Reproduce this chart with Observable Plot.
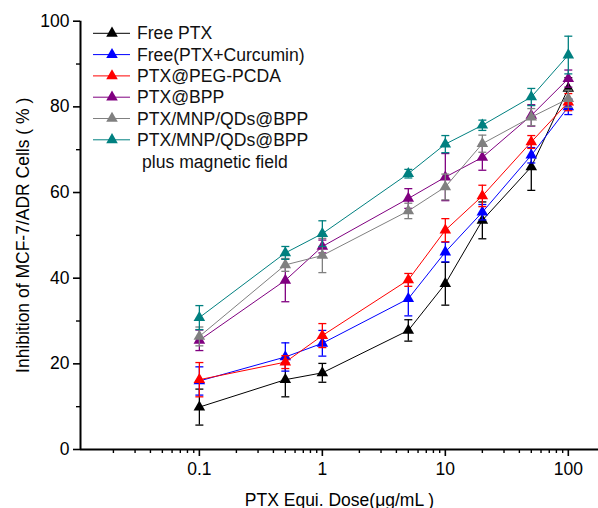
<!DOCTYPE html>
<html><head><meta charset="utf-8">
<script src="https://cdn.jsdelivr.net/npm/d3@7"></script>
<script src="https://cdn.jsdelivr.net/npm/@observablehq/plot@0.6"></script>
<style>
body{margin:0;background:#fff}
#wrap{position:relative;width:598px;height:508px;font-family:"Liberation Sans",Arial,sans-serif}
#legend{position:absolute;left:90px;top:20px}
</style>
</head><body><div id="wrap"></div>
<script>
// ---- data ----
const doses = [0.1, 0.5, 1, 5, 10, 20, 50, 100];
const seriesNames = ["Free PTX", "Free(PTX+Curcumin)", "PTX@PEG-PCDA", "PTX@BPP", "PTX/MNP/QDs@BPP", "PTX/MNP/QDs@BPP"];
const legendExtra = "plus magnetic field";
const seriesColors = ["#000000", "#0000ff", "#ff0000", "#800080", "#808080", "#008080"];
const freePTX      = [9.9, 16.3, 17.9, 27.8, 38.7, 53.5, 66.0, 84.3];
const freePTXsd    = [4.2, 4.0, 2.2, 2.5, 5.0, 4.3, 5.5, 2.5];
const freeCur      = [16.0, 21.6, 24.8, 35.2, 46.1, 55.4, 68.7, 80.0];
const freeCurSd    = [3.3, 3.3, 3.0, 4.0, 2.3, 1.8, 1.8, 1.8];
const pegPcda      = [16.3, 20.4, 26.6, 39.6, 51.2, 59.2, 71.8, 81.1];
const pegPcdaSd    = [4.0, 1.5, 2.8, 1.5, 2.7, 2.5, 1.5, 2.0];
const bpp          = [25.5, 39.5, 47.4, 58.6, 63.6, 68.2, 78.0, 86.6];
const bppSd        = [2.4, 5.0, 1.5, 2.3, 5.5, 3.0, 2.5, 2.0];
const mnpBpp       = [26.4, 43.1, 45.3, 55.7, 61.3, 71.4, 77.6, 81.9];
const mnpBppSd     = [2.2, 1.5, 4.0, 1.8, 3.0, 2.0, 2.0, 2.0];
const mnpMag       = [30.8, 45.9, 50.4, 64.4, 71.3, 75.7, 82.3, 92.1];
const mnpMagSd     = [2.8, 1.5, 3.0, 1.0, 2.0, 1.2, 2.0, 4.4];
const yMajorTicks = [0, 20, 40, 60, 80, 100];
const yMinorTicks = [10, 30, 50, 70, 90];
const xMajorTicks = [0.1, 1, 10, 100];
const xMinorTicks = [0.02,0.03,0.04,0.05,0.06,0.07,0.08,0.09,0.2,0.3,0.4,0.5,0.6,0.7,0.8,0.9,2,3,4,5,6,7,8,9,20,30,40,50,60,70,80,90];
const xDomain = [0.0108, 176];
const yDomain = [0, 100];

// ---- table ----
const means = [freePTX, freeCur, pegPcda, bpp, mnpBpp, mnpMag];
const sds = [freePTXsd, freeCurSd, pegPcdaSd, bppSd, mnpBppSd, mnpMagSd];
const rows = [];
means.forEach((m, s) => doses.forEach((d, i) => rows.push({
  s, dose: d, v: m[i], lo: m[i] - sds[s][i], hi: m[i] + sds[s][i]
})));

const cap = {draw(ctx, size) { const w = Math.sqrt(size / Math.PI); ctx.moveTo(-w, 0); ctx.lineTo(w, 0); }};

const marks = [];
means.forEach((m, s) => {
  const data = rows.filter(r => r.s === s);
  marks.push(
    Plot.line(data, {x: "dose", y: "v", stroke: seriesColors[s], strokeWidth: 1}),
    Plot.ruleX(data, {x: "dose", y1: "lo", y2: "hi", stroke: seriesColors[s], strokeWidth: 1.3}),
    Plot.dot(data, {x: "dose", y: "lo", symbol: cap, r: 4, stroke: seriesColors[s], strokeWidth: 1.3, fill: "none"}),
    Plot.dot(data, {x: "dose", y: "hi", symbol: cap, r: 4, stroke: seriesColors[s], strokeWidth: 1.3, fill: "none"}),
    Plot.dot(data, {x: "dose", y: "v", symbol: "triangle", r: 4.3, fill: seriesColors[s], stroke: "none"})
  );
});

const chart = Plot.plot({
  width: 598, height: 508,
  marginLeft: 80, marginRight: 0, marginTop: 20.7, marginBottom: 59,
  style: {fontFamily: '"Liberation Sans", Arial, sans-serif', fontSize: "17.5px", color: "#000", background: "#fff"},
  x: {type: "log", domain: xDomain},
  y: {domain: yDomain},
  marks: [
    Plot.axisY(yMajorTicks, {tickSize: 7, tickPadding: 4, strokeWidth: 1.6, fontSize: 17.5,
      label: "Inhibition of MCF-7/ADR Cells ( % )", labelAnchor: "center", labelArrow: "none", labelOffset: 64}),
    Plot.axisY(yMinorTicks, {tickSize: 4, strokeWidth: 1.4, tickFormat: () => "", label: null}),
    Plot.axisX(xMajorTicks, {tickSize: 7, tickPadding: 6, strokeWidth: 1.6, fontSize: 17.5, tickFormat: d => String(d),
      label: "PTX Equi. Dose(μg/mL )", labelAnchor: "center", labelArrow: "none", labelOffset: 56}),
    Plot.axisX(xMinorTicks, {tickSize: 4, strokeWidth: 1.4, tickFormat: () => "", label: null}),
    Plot.ruleY([yDomain[0]], {stroke: "#000", strokeWidth: 2}),
    Plot.ruleX([xDomain[0]], {stroke: "#000", strokeWidth: 2}),
    ...marks
  ]
});
const wrap = document.getElementById("wrap");
wrap.appendChild(chart);

// ---- legend ----
const rowH = 21.3;
const leg = d3.select(wrap).append("svg").attr("id", "legend")
  .attr("width", 300).attr("height", 160)
  .style("font-family", '"Liberation Sans", Arial, sans-serif').style("font-size", "17.6px");
seriesNames.forEach((name, i) => {
  const g = leg.append("g").attr("transform", `translate(0,${13.3 + i * rowH})`);
  g.append("line").attr("x1", 3).attr("x2", 40).attr("y1", 0).attr("y2", 0)
    .attr("stroke", seriesColors[i]).attr("stroke-width", 1);
  g.append("path").attr("d", d3.symbol(d3.symbolTriangle, Math.PI * 4.3 * 4.3)())
    .attr("transform", "translate(22,0)").attr("fill", seriesColors[i]);
  g.append("text").attr("x", 47).attr("y", 0).attr("dy", "0.35em").attr("fill", "#111").text(name);
});
leg.append("text").attr("x", 52).attr("y", 13.3 + 6 * rowH + 1).attr("dy", "0.35em").attr("fill", "#111").text(legendExtra);
</script>
</body></html>
